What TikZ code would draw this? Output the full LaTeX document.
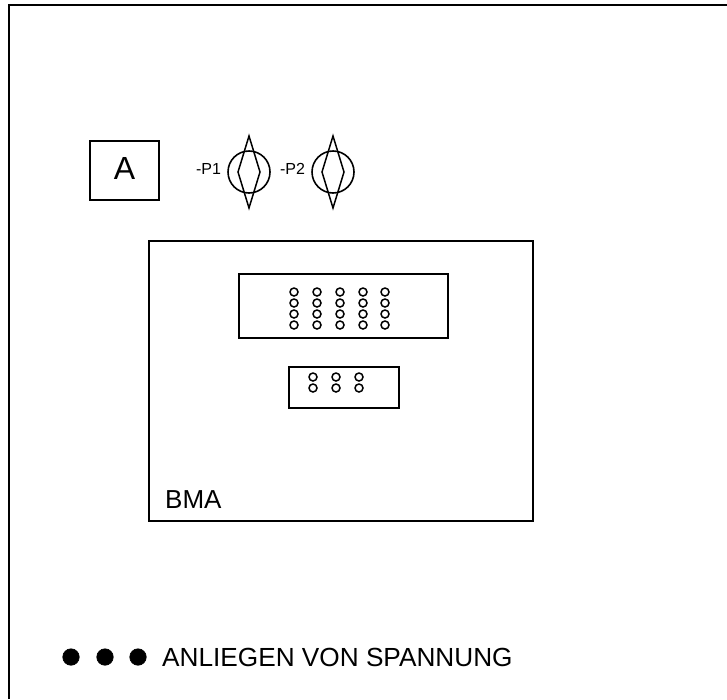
\documentclass[tikz,border=0pt]{standalone}
\usepackage{fontspec}
\setmainfont{Liberation Sans}
\usetikzlibrary{positioning}
\tikzset{
  rahmen/.style={draw,line width=1.6pt,inner sep=0pt},
  lampe/.style={draw,circle,line width=1.6pt,minimum size=42pt,inner sep=0pt},
  klemme/.style={draw,circle,line width=1.5pt,minimum size=8pt,inner sep=0pt},
  punkt/.style={draw,circle,fill=black,line width=0.6pt,minimum size=16.5pt,inner sep=0pt}
}
\newcommand{\fs}[1]{\fontsize{#1}{#1}\selectfont}

\begin{document}
\begin{tikzpicture}[x=1pt,y=-1pt]
\useasboundingbox (0,0) rectangle (727,699);

\coordinate (eckeunten) at (9,699);
\coordinate (eckeoben) at (9,5);
\coordinate (eckerechts) at (727,5);
\draw[line width=1.6pt] (eckeunten) -- (eckeoben) -- (eckerechts);

\node[rahmen,minimum width=69pt,minimum height=59pt,font=\fs{32},text depth=5pt] (a) at (124.5,170.5) {A};

\node[lampe] (p1) at (249,172) {};
\node[lampe] (p2) at (333,172) {};
\node[font=\fs{16},inner sep=0pt,left=6pt of p1,yshift=3pt] (p1text) {-P1};
\node[font=\fs{16},inner sep=0pt,left=6pt of p2,yshift=3pt] (p2text) {-P2};
\foreach \n/\px in {1/249,2/333}{
  \draw[line width=1.5pt] (\px,136) -- (\px+11,172) -- (\px,208) -- (\px-11,172) -- cycle;
}

\node[rahmen,minimum width=384pt,minimum height=280pt] (bma) at (341,381) {};
\node[font=\fs{26},anchor=base west,inner sep=0pt] (bmatext) at (165,508) {BMA};

\node[rahmen,minimum width=209pt,minimum height=64pt] (leiste1) at (343.5,306) {};
\node[rahmen,minimum width=110pt,minimum height=41pt] (leiste2) at (344,387.5) {};

\foreach \kx in {294,317,340,363,385}{
  \foreach \ky in {292,303,314,325}{
    \node[klemme] (k\kx-\ky) at (\kx,\ky) {};
  }
}
\foreach \kx in {313,336,359}{
  \foreach \ky in {377,388}{
    \node[klemme] (k\kx-\ky) at (\kx,\ky) {};
  }
}

\node[punkt] (d1) at (71,657) {};
\node[punkt] (d2) at (105,657) {};
\node[punkt] (d3) at (138,657) {};
\node[font=\fs{26.2},anchor=base west,inner sep=0pt] (spannung) at (162,666.5) {ANLIEGEN VON SPANNUNG};
\end{tikzpicture}
\end{document}
